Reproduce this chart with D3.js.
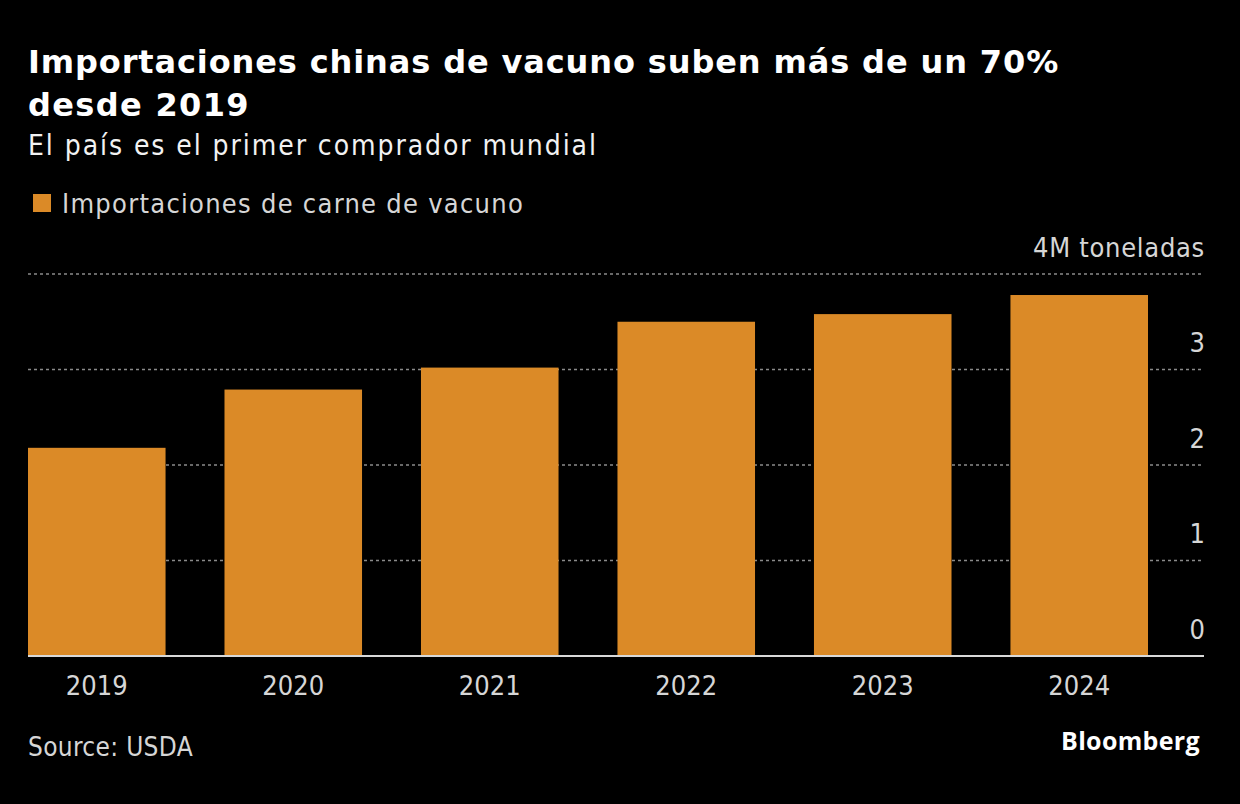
<!DOCTYPE html>
<html>
<head>
<meta charset="utf-8">
<script src="https://cdn.jsdelivr.net/npm/d3@7"></script>
<style>
html,body{margin:0;padding:0;background:#000;}
svg{display:block;}
</style>
</head>
<body>
<svg id="chart" width="1240" height="804"></svg>
<script>
const title1 = "Importaciones chinas de vacuno suben más de un 70%";
const title2 = "desde 2019";
const subtitle = "El país es el primer comprador mundial";
const legendLabel = "Importaciones de carne de vacuno";
const unitLabel = "4M toneladas";
const source = "Source: USDA";
const years = ["2019", "2020", "2021", "2022", "2023", "2024"];
const imports = [2.18, 2.79, 3.02, 3.50, 3.58, 3.78];
const yTicks = [0, 1, 2, 3, 4];
const yTickLabels = ["0", "1", "2", "3", ""];

(function () {
const svg = d3.select("#chart");
svg.append("rect").attr("width", 1240).attr("height", 804).attr("fill", "#000");

const bodyFont = "'DejaVu Sans Condensed', 'DejaVu Sans', sans-serif";
const titleFont = "'DejaVu Sans', sans-serif";
const textGray = "#d6d6d6";

// stretch a text's letter-spacing so it spans a given width
function fit(sel, target) {
  const node = sel.node();
  const w = node.getComputedTextLength();
  const n = node.textContent.length;
  sel.attr("letter-spacing", ((target - w) / n).toFixed(2));
  return sel;
}

const mLeft = 28, mRight = 1204, barRight = 1148, mTop = 274, mBottom = 656;

const x = d3.scaleBand().domain(years).range([mLeft, barRight]).paddingInner(0.3).paddingOuter(0);
const y = d3.scaleLinear().domain([0, 4]).range([mBottom, mTop]);

// gridlines
svg.append("g").selectAll("line").data(yTicks.filter(d => d > 0)).join("line")
  .attr("x1", mLeft).attr("x2", mRight)
  .attr("y1", d => y(d)).attr("y2", d => y(d))
  .attr("stroke", "#8a8a8a").attr("stroke-width", 1.5).attr("stroke-dasharray", "3,3");

// bars
svg.append("g").selectAll("rect").data(imports).join("rect")
  .attr("x", (d, i) => x(years[i]))
  .attr("width", x.bandwidth())
  .attr("y", d => y(d))
  .attr("height", d => y(0) - y(d))
  .attr("fill", "#db8a27");

// baseline
svg.append("line").attr("x1", mLeft).attr("x2", mRight).attr("y1", y(0)).attr("y2", y(0))
  .attr("stroke", "#d9d9d9").attr("stroke-width", 2);

// y axis labels
const yAxis = d3.axisRight(y).tickValues(yTicks).tickSize(0).tickFormat((d, i) => yTickLabels[i]);
const gy = svg.append("g").attr("transform", `translate(${mRight + 1},0)`).call(yAxis);
gy.select(".domain").remove();
gy.selectAll("text").attr("x", 0).attr("dy", -18).attr("text-anchor", "end")
  .attr("fill", textGray).style("font-family", bodyFont).style("font-size", "27px");

// x axis labels
const xAxis = d3.axisBottom(x).tickSize(0);
const gx = svg.append("g").attr("transform", `translate(0,${mBottom})`).call(xAxis);
gx.select(".domain").remove();
gx.selectAll("text").attr("y", 39).attr("dy", 0)
  .attr("fill", textGray).style("font-family", bodyFont).style("font-size", "27px");

// unit label
fit(svg.append("text").attr("x", mRight + 1).attr("y", 257).attr("text-anchor", "end")
  .attr("fill", textGray).style("font-family", bodyFont).style("font-size", "27px").text(unitLabel), 172);

// titles
fit(svg.append("text").attr("x", 28).attr("y", 73).attr("fill", "#fff")
  .style("font-family", titleFont).style("font-weight", "bold").style("font-size", "32px").text(title1), 1031);
fit(svg.append("text").attr("x", 28).attr("y", 116).attr("fill", "#fff")
  .style("font-family", titleFont).style("font-weight", "bold").style("font-size", "32px").text(title2), 222);
fit(svg.append("text").attr("x", 28).attr("y", 155).attr("fill", "#f2f2f2")
  .style("font-family", bodyFont).style("font-size", "28px").text(subtitle), 570);

// legend
svg.append("rect").attr("x", 33).attr("y", 194).attr("width", 18).attr("height", 18).attr("fill", "#db8a27");
fit(svg.append("text").attr("x", 62).attr("y", 213).attr("fill", textGray)
  .style("font-family", bodyFont).style("font-size", "27px").text(legendLabel), 462);

// source
fit(svg.append("text").attr("x", 28).attr("y", 756).attr("fill", textGray)
  .style("font-family", bodyFont).style("font-size", "26px").text(source), 165);

// Bloomberg
fit(svg.append("text").attr("x", 1200).attr("y", 750).attr("text-anchor", "end").attr("fill", "#fff")
  .style("font-family", "'Open Sans', 'DejaVu Sans', sans-serif").style("font-weight", "bold").style("font-size", "25px")
  .text("Bloomberg"), 139);
})();
</script>
</body>
</html>
